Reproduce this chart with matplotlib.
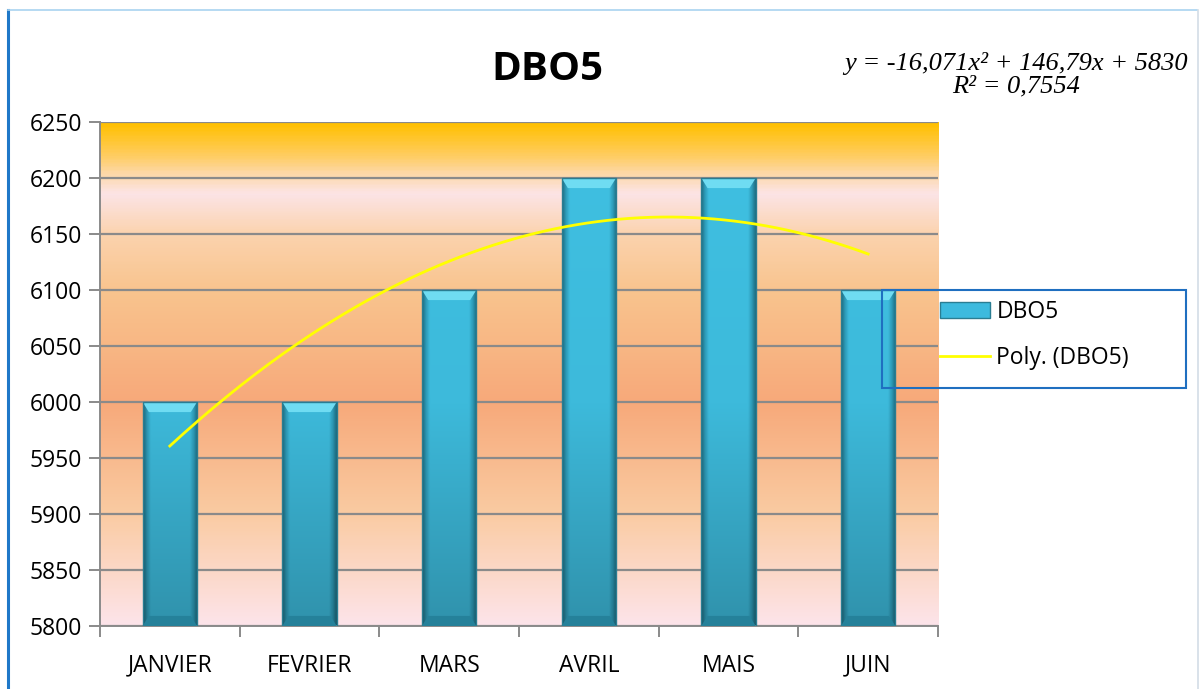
import numpy as np
import matplotlib
matplotlib.use("Agg")
import matplotlib.pyplot as plt
from matplotlib.colors import LinearSegmentedColormap
from matplotlib.patches import Rectangle, Polygon, Patch
from matplotlib.lines import Line2D

# data
months = ["JANVIER", "FEVRIER", "MARS", "AVRIL", "MAIS", "JUIN"]
dbo5 = [6000, 6000, 6100, 6200, 6200, 6100]
y_ticks = [5800, 5850, 5900, 5950, 6000, 6050, 6100, 6150, 6200, 6250]
eq_text = "y = -16,071x² + 146,79x + 5830\nR² = 0,7554"

plt.rcParams["font.family"] = ["Open Sans", "DejaVu Sans"]

fig = plt.figure(figsize=(12, 6.89), dpi=100)
ax = fig.add_axes([100 / 1200, 1 - 626 / 689, 838 / 1200, 504 / 689])

ymin, ymax = y_ticks[0], y_ticks[-1]
x = np.arange(1, len(months) + 1)
ax.set_xlim(0.5, len(months) + 0.5)
ax.set_ylim(ymin, ymax)

# plot area background gradient (bottom -> top)
stops = [
    (0.000, "#FDE4EA"),
    (0.222, "#FACBA2"),
    (0.444, "#F7A97A"),
    (0.667, "#F9C48E"),
    (0.780, "#FBD3AE"),
    (0.860, "#FCE4E6"),
    (0.900, "#FDD8A8"),
    (0.940, "#FFCC5A"),
    (1.000, "#FFC000"),
]
bg_cmap = LinearSegmentedColormap.from_list("bg", stops)
grad = np.linspace(0, 1, 400).reshape(-1, 1)
ax.imshow(grad, cmap=bg_cmap, aspect="auto", origin="lower",
          extent=(0.5, len(months) + 0.5, ymin, ymax), zorder=0)

ax.yaxis.grid(True, color="#8a8a8a", linewidth=1.6, zorder=1)
ax.set_axisbelow(True)

# bars: cyan face, darker edges, darker towards the bottom, bevels
bar_w = 0.39
bar_cmap = LinearSegmentedColormap.from_list(
    "bar", [(0.0, "#1f6f83"), (0.07, "#2f9fbd"), (0.14, "#3fc0e2"),
            (0.86, "#3fc0e2"), (0.93, "#2f9fbd"), (1.0, "#1f6f83")])
rgba = bar_cmap(np.linspace(0, 1, 80))[:, :3]
for xi, val in zip(x, dbo5):
    x0 = xi - bar_w / 2
    yy = np.linspace(ymin, val, 300)
    fade = np.interp(yy, [ymin, ymin + 200, ymax], [0.76, 0.97, 1.0])
    img = np.repeat(rgba[np.newaxis, :, :], 300, axis=0)
    img = np.clip(img * fade[:, None, None], 0, 1)
    im = ax.imshow(img, aspect="auto", origin="lower", interpolation="bilinear",
                   extent=(x0, x0 + bar_w, ymin, val), zorder=2)
    im.set_clip_path(Rectangle((x0, ymin), bar_w, val - ymin, transform=ax.transData))
    bev = 9.0
    ax.add_patch(Polygon([(x0, val), (x0 + bar_w, val), (x0 + bar_w - 0.045, val - bev),
                          (x0 + 0.045, val - bev)], closed=True, facecolor="#6fdcf2",
                         edgecolor="none", zorder=3))
    ax.add_patch(Polygon([(x0, ymin), (x0 + bar_w, ymin), (x0 + bar_w - 0.045, ymin + bev),
                          (x0 + 0.045, ymin + bev)], closed=True, facecolor="#25819a",
                         edgecolor="none", zorder=3))
    ax.add_patch(Rectangle((x0, ymin), bar_w, val - ymin, facecolor="none",
                           edgecolor="#2a7d92", linewidth=1.0, zorder=3))

# polynomial trendline (order 2)
coef = np.polyfit(x, dbo5, 2)
xs = np.linspace(x[0], x[-1], 200)
ax.plot(xs, np.polyval(coef, xs), color="#FFFF00", linewidth=2, zorder=4)

# axes styling
for s in ["top", "right"]:
    ax.spines[s].set_visible(False)
for s in ["left", "bottom"]:
    ax.spines[s].set_color("#8a8a8a")
    ax.spines[s].set_linewidth(1.4)
ax.set_yticks(y_ticks)
ax.set_yticklabels([str(v) for v in y_ticks], fontsize=16.5)
ax.tick_params(axis="y", length=8, width=1.4, color="#8a8a8a", pad=5)
ax.set_xticks(np.arange(0.5, len(months) + 1, 1.0))
ax.set_xticklabels([])
ax.tick_params(axis="x", which="major", length=8, width=1.4, color="#8a8a8a")
ax.set_xticks(x, minor=True)
ax.set_xticklabels(months, minor=True, fontsize=16.5)
ax.tick_params(axis="x", which="minor", length=0, pad=20)

# title and equation
fig.text(547 / 1200, 1 - 70 / 689, "DBO5", ha="center", va="center",
         fontsize=29, fontweight="bold")
fig.text(1016 / 1200, 1 - 75 / 689, eq_text, ha="center", va="center",
         fontsize=19, style="italic", family=["Liberation Serif", "DejaVu Serif"],
         linespacing=1.05)

# legend
handles = [Patch(facecolor="#3cbade", edgecolor="#2a7d92"),
           Line2D([0], [0], color="#FFFF00", linewidth=2)]
fig.legend(handles, ["DBO5", "Poly. (DBO5)"], loc="upper left",
           bbox_to_anchor=(940 / 1200, 1 - 300 / 689), frameon=False,
           borderpad=0, borderaxespad=0,
           fontsize=16.5, handlelength=2.2, handleheight=0.7, labelspacing=0.95,
           handletextpad=0.26)
fig.add_artist(Rectangle((882 / 1200, 1 - 388 / 689), 304 / 1200, 98 / 689,
                         transform=fig.transFigure, facecolor="none",
                         edgecolor="#1f6fc0", linewidth=1.5))

# chart frame
fig.add_artist(Line2D([8 / 1200, 8 / 1200], [0, 1 - 10 / 689], transform=fig.transFigure,
                      color="#1f78c8", linewidth=2.2))
fig.add_artist(Line2D([8 / 1200, 1197 / 1200], [1 - 10 / 689, 1 - 10 / 689],
                      transform=fig.transFigure, color="#a9d3f0", linewidth=1.2))
fig.add_artist(Line2D([1198 / 1200, 1198 / 1200], [0, 1 - 10 / 689],
                      transform=fig.transFigure, color="#d3dde6", linewidth=1.2))

fig.savefig("out.png", dpi=100)
